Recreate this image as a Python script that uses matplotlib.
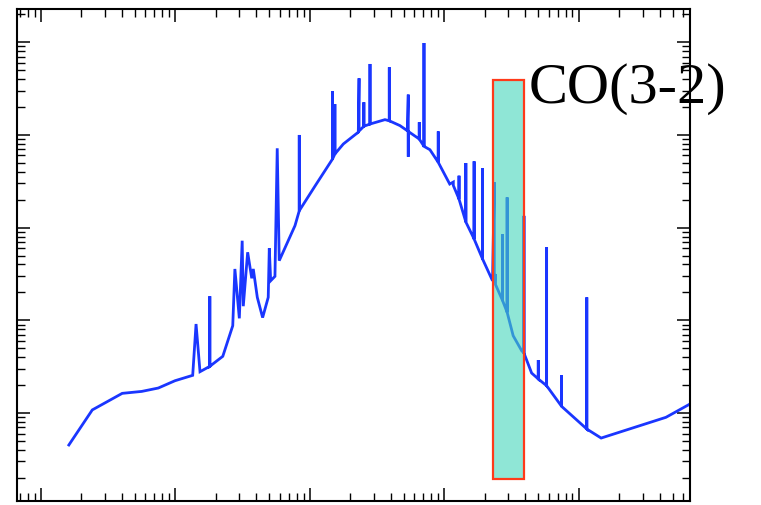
import numpy as np
import matplotlib
matplotlib.use("Agg")
import matplotlib.pyplot as plt
from matplotlib.ticker import LogLocator, NullFormatter
from matplotlib.patches import Rectangle

# Spectre (continuum + raies)
wave = [1.62, 2.42, 4.04, 5.64, 7.49, 9.97, 13.5, 14.3, 15.3, 18.1, 18.1, 18.1,
        22.6, 26.8, 27.8, 30.0, 31.5, 32.1, 34.6, 37.1, 38.1, 40.8, 44.7, 49.2,
        50.1, 51.3, 55.2, 57.4, 59.4, 77.8, 83.7, 83.7, 83.7, 110, 148, 148, 148,
        154, 154, 154, 178, 230, 233, 233, 253, 253, 253, 281, 281, 281, 363, 391,
        391, 391, 469, 532, 541, 541, 541, 653, 653, 653, 708, 708, 708, 784, 904,
        904, 904, 1100, 1170, 1170, 1290, 1290, 1290, 1450, 1450, 1450, 1670, 1670,
        1670, 1930, 1930, 1930, 2290, 2360, 2360, 2410, 2410, 2720, 2720, 2720,
        2940, 2940, 2940, 3260, 3770, 3920, 3920, 3920, 4470, 5010, 5010, 5010,
        5780, 5780, 5780, 7470, 7470, 7470, 11500, 11500, 11500, 14700, 44600,
        67200, 112000]
flux = [0.452, 1.08, 1.63, 1.71, 1.86, 2.23, 2.55, 9.12, 2.79, 3.19, 18.2, 3.19,
        4.09, 8.74, 35.8, 10.5, 72.2, 14.2, 54.2, 28.4, 35.8, 17.7, 10.7, 17.7,
        59.8, 26.7, 29.8, 717, 44.0, 105, 152, 998, 152, 283, 550, 2950, 550,
        622, 2150, 622, 798, 1070, 4080, 1100, 1240, 2250, 1240, 1310, 5820, 1310, 1460, 1420,
        5360, 1420, 1260, 1110, 2720, 582, 1090, 903, 1370, 903, 753, 9800, 753, 692, 506,
        1090, 506, 295, 310, 285, 203, 363, 203, 115, 497, 115, 75.4, 519,
        75.4, 45.9, 439, 45.9, 26.7, 308, 25.3, 31.6, 24.3, 16.3, 85.3, 16.3,
        12.2, 212, 12.2, 6.82, 4.70, 4.44, 134, 4.44, 2.70, 2.33, 3.73, 2.33,
        1.97, 61.3, 1.97, 1.18, 2.57, 1.18, 0.672, 17.7, 0.672, 0.537, 0.899,
        1.25, 1.73]

# bande CO(3-2)
band_x = (2300, 3920)
band_y = (0.194, 3910)
label = "CO(3-2)"

fig = plt.figure(figsize=(7.61, 5.06), dpi=100)
ax = fig.add_axes([17 / 761, 4 / 506, 673 / 761, 492 / 506])

ax.plot(wave, flux, color="#1a36ff", lw=2.0, solid_joinstyle="miter", zorder=2)

ax.add_patch(Rectangle((band_x[0], band_y[0]), band_x[1] - band_x[0], band_y[1] - band_y[0],
                       facecolor="#45d6bc", alpha=0.6, edgecolor="none", zorder=3))
ax.add_patch(Rectangle((band_x[0], band_y[0]), band_x[1] - band_x[0], band_y[1] - band_y[0],
                       facecolor="none", edgecolor="#ff3a1a", lw=1.6, zorder=4))

ax.text(4270, 2250, label, fontsize=42, family="Liberation Serif",
        va="baseline", ha="left", clip_on=False, zorder=5)

ax.set_xscale("log")
ax.set_yscale("log")
ax.set_xlim(10 ** -0.176, 10 ** 4.828)
ax.set_ylim(10 ** -0.949, 10 ** 4.358)

for axis in (ax.xaxis, ax.yaxis):
    axis.set_major_locator(LogLocator(base=10, numticks=20))
    axis.set_minor_locator(LogLocator(base=10, subs=np.arange(2, 10), numticks=100))
    axis.set_major_formatter(NullFormatter())
    axis.set_minor_formatter(NullFormatter())

ax.tick_params(which="both", direction="in", top=True, right=True, color="black")
ax.tick_params(which="major", length=9.5, width=1.1)
ax.tick_params(which="minor", length=5.8, width=1.0)
for s in ax.spines.values():
    s.set_linewidth(1.5)

fig.savefig("out.png", dpi=100)
